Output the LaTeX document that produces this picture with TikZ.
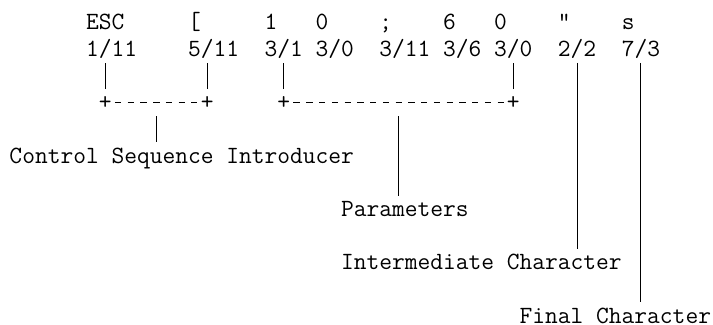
\documentclass[tikz,border=0pt]{standalone}
\usetikzlibrary{calc}
\newlength\cellw
\settowidth\cellw{\fontsize{24pt}{24pt}\selectfont\ttfamily 0}
\pgfmathsetmacro\ttsize{24*12.755/\cellw}

\begin{document}
\begin{tikzpicture}[
            x=12.755pt, y=-26.67pt,
            chr/.style={anchor=base west, inner sep=0pt, text height=20.4pt, text depth=6.27pt,
                font=\fontsize{\ttsize pt}{26.67pt}\selectfont\ttfamily},
            bar/.style={draw, line width=1pt},
            rail/.style={draw, line width=1.2pt, dash pattern=on 6.4pt off 6.355pt,
                shorten <=3.18pt, shorten >=3.18pt}
            ]
            \useasboundingbox (-0.729,-1.114) rectangle (55.17,11.035);
            \node[chr] (esc) at (6,0) {ESC};
            \node[chr] (brk) at (14,0) {[};
            \node[chr] (one) at (20,0) {1};
            \node[chr] (zeroa) at (24,0) {0};
            \node[chr] (semi) at (29,0) {;};
            \node[chr] (six) at (34,0) {6};
            \node[chr] (zerob) at (38,0) {0};
            \node[chr] (quot) at (43,0) {"};
            \node[chr] (ess) at (48,0) {s};
            \node[chr] (c111) at (6,1) {1/11};
            \node[chr] (c511) at (14,1) {5/11};
            \node[chr] (c31) at (20,1) {3/1};
            \node[chr] (c30a) at (24,1) {3/0};
            \node[chr] (c311) at (29,1) {3/11};
            \node[chr] (c36) at (34,1) {3/6};
            \node[chr] (c30b) at (38,1) {3/0};
            \node[chr] (c22) at (43,1) {2/2};
            \node[chr] (c73) at (48,1) {7/3};
            \node[chr] (lp1) at (7,3) {+};
            \node[chr] (lp2) at (15,3) {+};
            \node[chr] (rp1) at (21,3) {+};
            \node[chr] (rp2) at (39,3) {+};
            \node[chr] (csi) at (0,5) {Control Sequence Introducer};
            \node[chr] (params) at (26,7) {Parameters};
            \node[chr] (inter) at (26,9) {Intermediate Character};
            \node[chr] (final) at (40,11) {Final Character};
            \coordinate (lmid) at ($(lp1.south)!.5!(lp2.south)$);
            \coordinate (rmid) at ($(rp1.south)!.5!(rp2.south)$);
            \draw[rail] (lp1.east) -- (lp2.west);
            \draw[rail] (rp1.east) -- (rp2.west);
            \draw[bar] (lp1.north) -- (lp1.north |- c111.south);
            \draw[bar] (lp2.north) -- (lp2.north |- c511.south);
            \draw[bar] (rp1.north) -- (c31.south);
            \draw[bar] (rp2.north) -- (c30b.south);
            \draw[bar] (lmid) -- (lmid |- csi.north);
            \draw[bar] (rmid) -- (rmid |- params.north);
            \draw[bar] (c22.south) -- (c22.south |- inter.north);
            \draw[bar] (c73.south) -- (c73.south |- final.north);
        \end{tikzpicture}
\end{document}
